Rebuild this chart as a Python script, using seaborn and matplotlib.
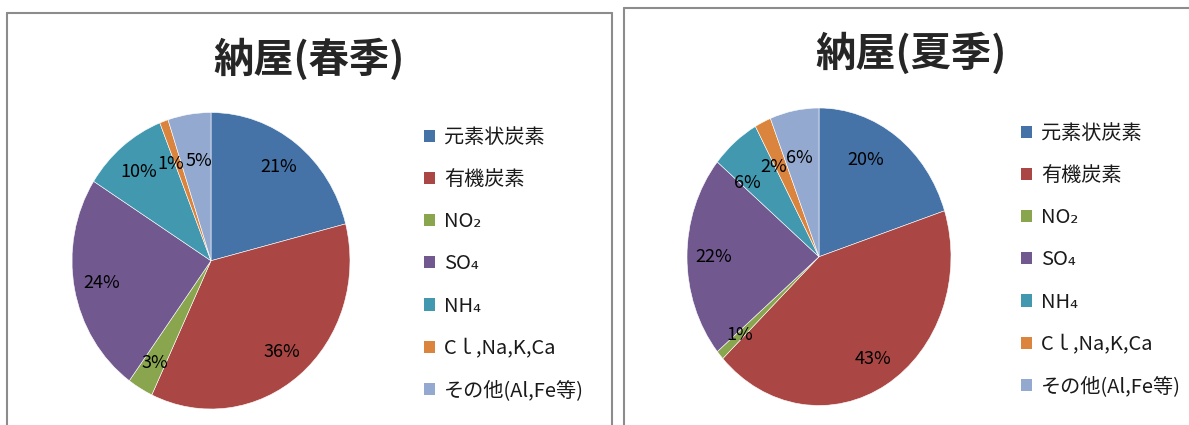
import matplotlib
matplotlib.use("Agg")
import matplotlib.pyplot as plt
from matplotlib.lines import Line2D
from matplotlib.patches import Patch
import seaborn as sns

# ---- data ----
categories = ["元素状炭素", "有機炭素", "NO₂", "SO₄", "NH₄", "Cｌ,Na,K,Ca", "その他(Al,Fe等)"]
spring_values = [21, 36, 3, 24, 10, 1, 5]
summer_values = [20, 43, 1, 22, 6, 2, 6]
titles = ["納屋(春季)", "納屋(夏季)"]
colors = ["#4572A7", "#AA4643", "#89A54E", "#71588F", "#4198AF", "#DB843D", "#93A9CF"]

sns.set_theme(style="white")
palette = sns.color_palette(colors)
FONT = ["Noto Sans CJK JP", "DejaVu Sans"]
plt.rcParams["font.family"] = FONT

W, H = 1189, 425
fig = plt.figure(figsize=(W / 100, H / 100), dpi=100)
fig.patch.set_facecolor("white")


def px_axes(x0, y0, x1, y1):
    return fig.add_axes([x0 / W, 1 - y1 / H, (x1 - x0) / W, (y1 - y0) / H])


def fline(xs, ys):
    fig.add_artist(Line2D([x / W for x in xs], [1 - y / H for y in ys],
                          transform=fig.transFigure, color="#8c8c8c", lw=1.5))


# panel borders
fline([7, 7], [425, 13]); fline([7, 612], [13, 13]); fline([612, 612], [13, 425])
fline([624, 624], [425, 8]); fline([624, 1189], [8, 8])

panels = [
    dict(vals=spring_values, box=(72, 112.5, 350, 409), title=titles[0], tx=309, ty=60,
         leg=(424, 127), nudge={4: (-0.01, -0.02), 5: (-0.015, -0.10), 6: (0.035, -0.12)}),
    dict(vals=summer_values, box=(687, 108, 951, 405.5), title=titles[1], tx=911, ty=54,
         leg=(1021, 123), nudge={0: (-0.12, 0.0), 4: (-0.03, -0.12), 5: (0.0, -0.12),
                                 6: (0.0, -0.12)}),
]

for p in panels:
    ax = px_axes(*p["box"])
    wedges, _, autotexts = ax.pie(
        p["vals"], colors=palette, startangle=90, counterclock=False,
        autopct=lambda v: f"{v:.0f}%", pctdistance=0.8,
        wedgeprops=dict(edgecolor="white", linewidth=0.4),
        textprops=dict(fontsize=13, color="black"),
    )
    for i, (dx, dy) in p["nudge"].items():
        x, y = autotexts[i].get_position()
        autotexts[i].set_position((x + dx, y + dy))
    ax.set_aspect("auto")
    ax.set_xlim(-1, 1)
    ax.set_ylim(-1, 1)
    ax.axis("off")
    fig.text(p["tx"] / W, 1 - p["ty"] / H, p["title"], ha="center", va="center",
             fontsize=29, fontweight="bold", family=FONT)
    handles = [Patch(facecolor=c, edgecolor="none") for c in palette]
    lx, ly = p["leg"]
    leg = fig.legend(handles, categories, loc="upper left",
                     bbox_to_anchor=(lx / W, 1 - ly / H), frameon=False,
                     fontsize=14.5, handlelength=0.55, handleheight=0.55,
                     handletextpad=0.45, labelspacing=1.05, borderpad=0,
                     borderaxespad=0)
    for t in leg.get_texts():
        t.set_color("#1a1a1a")

fig.savefig("out.png", dpi=100, facecolor="white")
